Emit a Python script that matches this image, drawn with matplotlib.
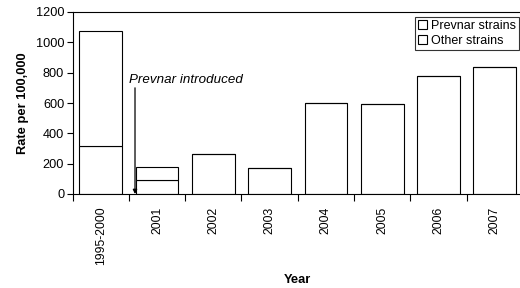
import matplotlib
matplotlib.use('Agg')
import matplotlib.pyplot as plt
import numpy as np

plt.rcParams['font.family'] = ['Liberation Sans', 'DejaVu Sans']

years = ['1995-2000', '2001', '2002', '2003', '2004', '2005', '2006', '2007']
other_strains = [316, 92, 264, 171, 600, 593, 778, 837]
prevnar_strains = [759, 86, 0, 0, 0, 0, 0, 0]

W, H = 520, 288
fig = plt.figure(figsize=(W / 100, H / 100), dpi=100)
ax = fig.add_axes([72.5 / W, 1 - 194 / H, (523 - 72.5) / W, (194 - 12) / H])

x = np.arange(len(years))
bw = 0.76
ax.bar(x, other_strains, bw, color='white', edgecolor='black', linewidth=0.8,
       label='Other strains')
ax.bar(x, prevnar_strains, bw, bottom=other_strains, color='white',
       edgecolor='black', linewidth=0.8, label='Prevnar strains')

ax.set_xlim(-0.5, len(years) - 0.5)
ax.set_ylim(0, 1200)
ax.set_yticks(range(0, 1201, 200))
ax.tick_params(axis='y', labelsize=9.2, length=4, width=0.8, pad=2)

ax.set_xticks(x)
ax.set_xticklabels(years, rotation=90, fontsize=8.8)
ax.tick_params(axis='x', length=0, pad=9)
ax.set_xticks(np.arange(-0.5, len(years)), minor=True)
ax.tick_params(axis='x', which='minor', length=5, width=0.8)

ax.spines['right'].set_visible(False)
for s in ['left', 'bottom', 'top']:
    ax.spines[s].set_linewidth(0.8)

ax.set_ylabel('Rate per 100,000', fontsize=9.3, fontweight='bold', labelpad=5)
ax.set_xlabel('Year', fontsize=9.3, fontweight='bold', va='center')
ax.xaxis.set_label_coords(0.5, (194 - 280) / 182)

ax.annotate('', xy=(0.61, 0), xytext=(0.61, 700),
            arrowprops=dict(arrowstyle='-|>', color='black', lw=0.9,
                            mutation_scale=6, shrinkA=0, shrinkB=0))
ax.text(0.5, 750, 'Prevnar introduced', fontsize=9.6, style='italic',
        ha='left', va='center')

handles, labels = ax.get_legend_handles_labels()
leg = ax.legend(handles[::-1], labels[::-1], loc='upper right',
                bbox_to_anchor=(519 / W, 1 - 17 / H), bbox_transform=fig.transFigure,
                fontsize=9, frameon=True, fancybox=False, edgecolor='black',
                handlelength=0.7, handleheight=0.7, handletextpad=0.3,
                borderpad=0.25, labelspacing=0.2, borderaxespad=0)
leg.get_frame().set_linewidth(0.8)

fig.savefig('out.png', dpi=100)
